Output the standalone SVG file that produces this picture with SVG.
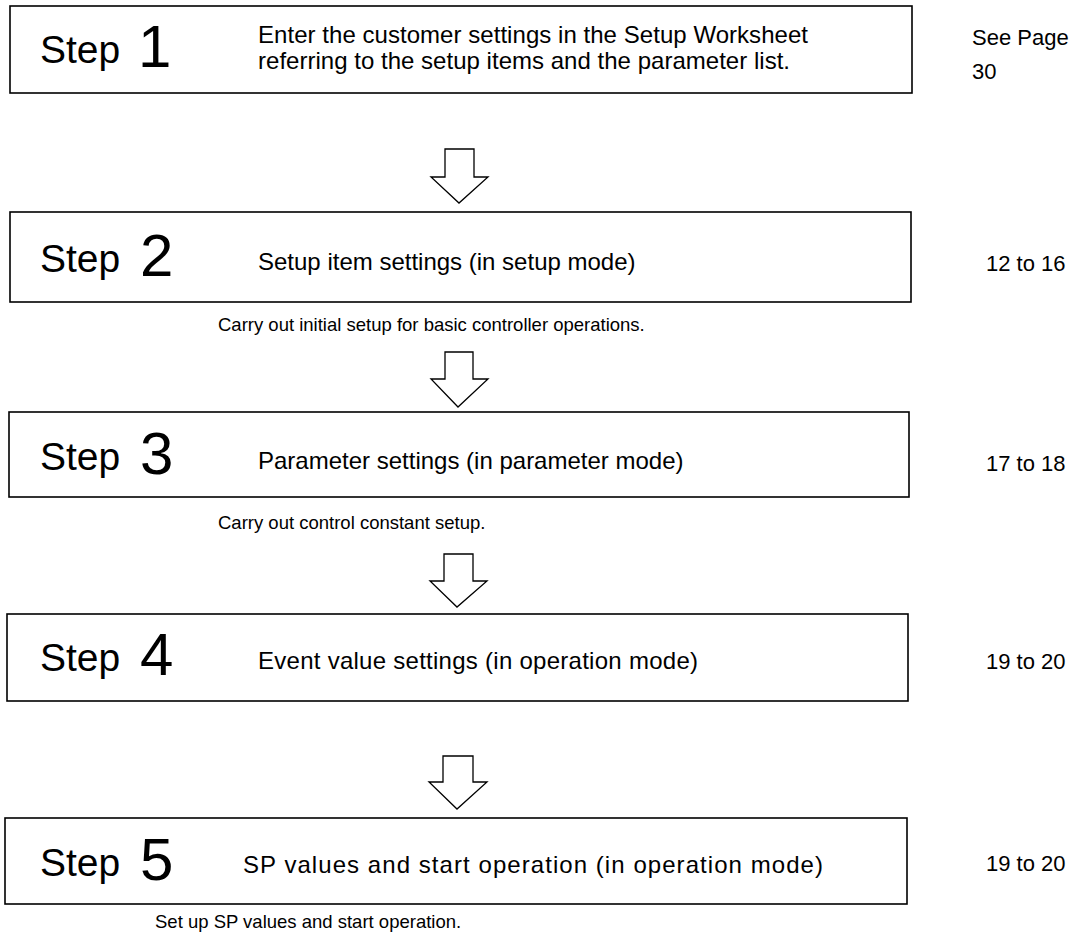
<svg xmlns="http://www.w3.org/2000/svg" width="1088" height="936" viewBox="0 0 1088 936">
<style>
.box{fill:none;stroke:#000;stroke-width:1.6}
.arr{fill:#fff;stroke:#000;stroke-width:1.3;stroke-linejoin:miter}
text{font-family:"Liberation Sans",Arial,sans-serif;fill:#000}
.step{font-size:39px}
.num{font-size:60px}
.main{font-size:24px}
.note{font-size:18.5px}
.page{font-size:22px}
</style>
<rect width="1088" height="936" fill="#fff"/>
<g id="connectors">
<path class="arr" d="M445,149 H474 V177 H488 L459,203 L431,177 H445 Z"/>
<path class="arr" d="M445,352 H473 V379 H488 L458,407 L431,379 H445 Z"/>
<path class="arr" d="M444,554 H473 V581 H487 L457,607 L430,581 H444 Z"/>
<path class="arr" d="M443,756 H473 V782 H487 L457,809 L429,782 H443 Z"/>
</g>
<g id="step1">
<rect class="box" x="10" y="6" width="902" height="87"/>
<text class="step" x="40" y="63">Step</text>
<text class="num" x="138" y="67">1</text>
<text class="main" x="258" y="43" font-size="23.5" textLength="550">Enter the customer settings in the Setup Worksheet</text>
<text class="main" x="258" y="69" font-size="23.5" textLength="532">referring to the setup items and the parameter list.</text>
<text class="page" x="972" y="45">See Page</text>
<text class="page" x="972" y="79">30</text>
</g>
<g id="step2">
<rect class="box" x="10" y="212" width="901" height="90"/>
<text class="step" x="40" y="272">Step</text>
<text class="num" x="140" y="276">2</text>
<text class="main" x="258" y="270">Setup item settings (in setup mode)</text>
<text class="page" x="986" y="271">12 to 16</text>
<text class="note" x="218" y="331">Carry out initial setup for basic controller operations.</text>
</g>
<g id="step3">
<rect class="box" x="9" y="412" width="900" height="85"/>
<text class="step" x="40" y="470">Step</text>
<text class="num" x="140" y="474">3</text>
<text class="main" x="258" y="469">Parameter settings (in parameter mode)</text>
<text class="page" x="986" y="471">17 to 18</text>
<text class="note" x="218" y="529">Carry out control constant setup.</text>
</g>
<g id="step4">
<rect class="box" x="7" y="614" width="901" height="87"/>
<text class="step" x="40" y="671">Step</text>
<text class="num" x="140" y="675">4</text>
<text class="main" x="258" y="669" textLength="440">Event value settings (in operation mode)</text>
<text class="page" x="986" y="669">19 to 20</text>
</g>
<g id="step5">
<rect class="box" x="5" y="818" width="902" height="86"/>
<text class="step" x="40" y="876">Step</text>
<text class="num" x="140" y="880">5</text>
<text class="main" x="243" y="873" font-size="25" textLength="580">SP values and start operation (in operation mode)</text>
<text class="page" x="986" y="871">19 to 20</text>
<text class="note" x="155" y="928">Set up SP values and start operation.</text>
</g>
</svg>
